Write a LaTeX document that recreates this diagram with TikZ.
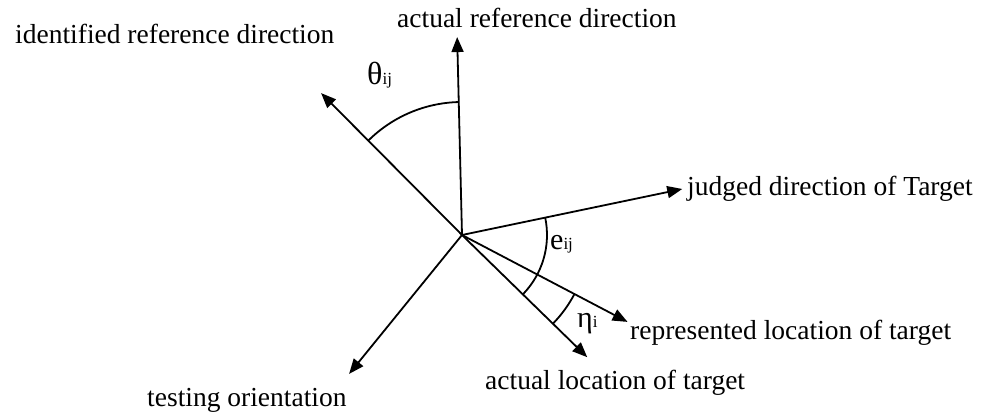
\documentclass[tikz,border=0pt]{standalone}
\usepackage{fontspec}
\setmainfont{Liberation Serif}
\usetikzlibrary{arrows.meta}

\begin{document}
\begin{tikzpicture}[
  x=1pt, y=1pt,
  arr/.style  = {-{Triangle[length=15pt,width=12pt]}, line width=1.8pt},
  ang/.style  = {line width=1.8pt},
  lbl/.style  = {anchor=base west, inner sep=0pt,
                 font=\fontsize{27.5}{30}\selectfont}
]
  \useasboundingbox (0,0) rectangle (985,418);

  \coordinate (O) at (462,183);

  % rays from the origin
  \foreach \n/\a/\l in {actref/91.4/198, idref/134.8/200, judged/11.8/225,
                        repr/-27.7/187, actloc/-44.3/175, testor/230.9/179}{
    \coordinate (\n) at ([shift={(\a:\l)}]O);
    \draw[arr] (O) -- (\n);
  }

  % angle arcs
  \draw[ang] ([shift={(134.8:133)}]O) arc[start angle=134.8, end angle=91.4, radius=133];
  \draw[ang] ([shift={(11.8:85)}]O)   arc[start angle=11.8, end angle=-44.3, radius=85];
  \draw[ang] ([shift={(-27.7:127)}]O) arc[start angle=-27.7, end angle=-44.3, radius=127];

  % labels
  \node[lbl] (tidref)  at (15,374)  {identified reference direction};
  \node[lbl] (tactref) at (397,390) {actual reference direction};
  \node[lbl] (tjudged) at (687,222) {judged direction of Target};
  \node[lbl] (trepr)   at (630,79)  {represented location of target};
  \node[lbl] (tactloc) at (485,29)  {actual location of target};
  \node[lbl] (ttestor) at (147,12)  {testing orientation};

  \node[lbl] (theta) at (367,333) {\fontsize{32}{34}\selectfont θ\fontsize{17}{20}\selectfont ij};
  \node[lbl] (eij)   at (550,168) {\fontsize{30}{32}\selectfont e\fontsize{17}{20}\selectfont ij};
  \node[lbl] (eta)   at (577,91)  {\fontsize{30}{32}\selectfont η\fontsize{17}{20}\selectfont i};
\end{tikzpicture}
\end{document}
